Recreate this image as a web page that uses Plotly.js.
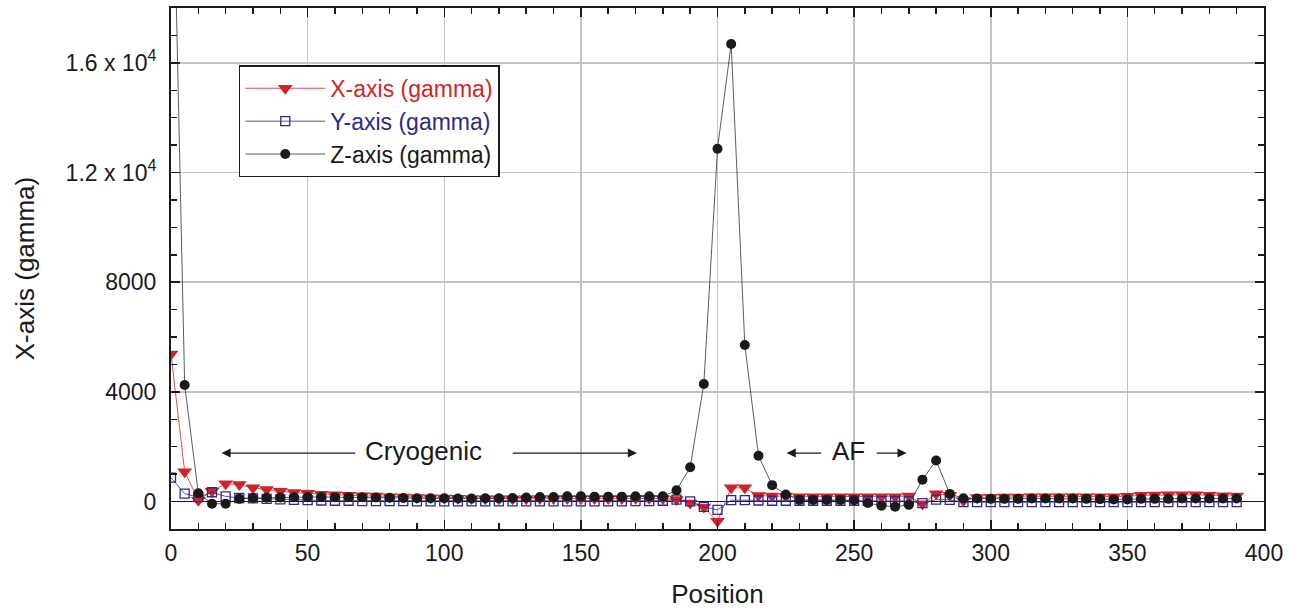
<!DOCTYPE html>
<html>
<head>
<meta charset="utf-8">
<script src="https://cdn.plot.ly/plotly-3.0.1.min.js"></script>
<style>html,body{margin:0;padding:0;background:#fff;}#chart{width:1303px;height:613px;}</style>
</head>
<body>
<div id="chart"></div>
<script>
const positions = [0,5,10,15,20,25,30,35,40,45,50,55,60,65,70,75,80,85,90,95,
  100,105,110,115,120,125,130,135,140,145,150,155,160,165,170,175,180,185,190,195,
  200,205,210,215,220,225,230,235,240,245,250,255,260,265,270,275,280,285,290,295,
  300,305,310,315,320,325,330,335,340,345,350,355,360,365,370,375,380,385,390];

const xAxisGamma = [5380,1090,50,380,650,620,500,440,380,330,300,270,250,230,210,200,180,170,150,140,
  130,120,110,100,100,100,100,110,110,110,110,110,110,110,120,120,110,80,-50,-200,
  -720,500,500,220,200,190,180,180,180,180,180,180,180,180,200,-80,290,230,30,150,
  160,170,170,180,180,180,180,180,180,180,190,230,240,250,250,250,230,210,200];

const yAxisGamma = [870,290,160,340,190,130,120,100,80,60,50,40,30,30,20,20,20,20,10,10,
  10,10,10,10,10,10,10,10,10,10,10,10,10,10,20,20,30,70,10,-190,
  -300,50,50,40,30,30,30,30,30,30,30,30,20,20,20,-60,70,60,-20,-20,
  -20,-20,-20,-20,-20,-20,-20,-20,-20,-20,-20,-20,-20,-20,-20,-20,-20,-20,-20];

const zAxisGamma = [27000,4250,300,-80,-80,100,130,140,150,160,170,170,160,160,160,150,140,130,120,120,
  120,110,110,120,120,130,150,170,170,190,190,180,180,180,190,190,190,410,1250,4290,
  12870,16690,5710,1670,600,260,60,60,60,60,50,-50,-150,-190,-120,800,1500,280,120,110,
  100,100,100,110,110,110,110,100,90,80,80,100,100,100,110,110,110,110,110];

const xTickVals = [0,50,100,150,200,250,300,350,400];
const yTickVals = [0,4000,8000,12000,16000];
const yTickText = ['0','4000','8000','1.2 x 10<sup>4</sup>','1.6 x 10<sup>4</sup>'];

const RED = '#d2232a', BLUE = '#2e2a87', BLACK = '#1a1a1a';
const FONT = 'Liberation Sans, Arial, Helvetica, sans-serif';

const traces = [
  {x: positions, y: xAxisGamma, mode: 'lines+markers', type: 'scatter',
   name: '<span style="color:' + RED + '">X-axis (gamma)</span>',
   line: {color: RED, width: 0.8},
   marker: {symbol: 'triangle-down', size: 13, color: RED, line: {width: 0}}},
  {x: positions, y: yAxisGamma, mode: 'lines+markers', type: 'scatter',
   name: '<span style="color:' + BLUE + '">Y-axis (gamma)</span>',
   line: {color: BLUE, width: 0.8},
   marker: {symbol: 'square-open', size: 9, color: BLUE, line: {width: 1.3, color: BLUE}}},
  {x: positions, y: zAxisGamma, mode: 'lines+markers', type: 'scatter',
   name: 'Z-axis (gamma)',
   line: {color: '#333', width: 0.8},
   marker: {symbol: 'circle', size: 10, color: BLACK}}
];

const arrowBase = {xref: 'x', yref: 'y', axref: 'x', ayref: 'y', text: '', showarrow: true,
  arrowhead: 2, arrowsize: 1.4, arrowwidth: 1.3, arrowcolor: BLACK};

const layout = {
  width: 1303, height: 613,
  margin: {l: 171, r: 39, t: 8, b: 84},
  paper_bgcolor: '#fff', plot_bgcolor: '#fff',
  font: {family: FONT, size: 22, color: BLACK},
  showlegend: true,
  legend: {x: 0.062, y: 0.89, xanchor: 'left', yanchor: 'top',
    bgcolor: '#fff', bordercolor: BLACK, borderwidth: 1.5,
    font: {family: FONT, size: 23, color: BLACK}, tracegroupgap: 0, itemwidth: 80},
  xaxis: {range: [0, 400], tickvals: xTickVals,
    ticks: 'inside', ticklen: 9, tickwidth: 1.5, tickcolor: BLACK,
    showline: true, linecolor: BLACK, linewidth: 2, mirror: 'allticks',
    showgrid: true, gridcolor: '#bfc4c4', gridwidth: 1.5, zeroline: false,
    minor: {dtick: 10, ticks: 'inside', ticklen: 6, tickwidth: 1.5, tickcolor: BLACK, showgrid: false},
    tickfont: {family: FONT, size: 23, color: BLACK}, ticklabelstandoff: 2,
    title: {text: 'Position', font: {family: FONT, size: 26, color: BLACK}, standoff: 20}},
  yaxis: {range: [-1000, 18000], tickvals: yTickVals, ticktext: yTickText,
    ticks: 'inside', ticklen: 9, tickwidth: 1.5, tickcolor: BLACK,
    showline: true, linecolor: BLACK, linewidth: 2, mirror: 'allticks',
    showgrid: true, gridcolor: '#bfc4c4', gridwidth: 1.5,
    zeroline: true, zerolinecolor: BLACK, zerolinewidth: 1.2,
    minor: {dtick: 1000, tick0: 0, ticks: 'inside', ticklen: 6, tickwidth: 1.5, tickcolor: BLACK, showgrid: false},
    tickfont: {family: FONT, size: 23, color: BLACK}, ticklabelstandoff: 8,
    title: {text: 'X-axis (gamma)', font: {family: FONT, size: 26, color: BLACK}, standoff: 24}},
  annotations: [
    {xref: 'x', yref: 'y', x: 92.5, y: 1850, text: 'Cryogenic', showarrow: false,
     font: {family: FONT, size: 26, color: BLACK}},
    Object.assign({x: 18.5, y: 1770, ax: 68, ay: 1770}, arrowBase),
    Object.assign({x: 170.5, y: 1770, ax: 124.5, ay: 1770}, arrowBase),
    {xref: 'x', yref: 'y', x: 248, y: 1850, text: 'AF', showarrow: false,
     font: {family: FONT, size: 26, color: BLACK}},
    Object.assign({x: 225.3, y: 1770, ax: 238.5, ay: 1770}, arrowBase),
    Object.assign({x: 269.2, y: 1770, ax: 257.7, ay: 1770}, arrowBase)
  ]
};

Plotly.newPlot('chart', traces, layout, {displayModeBar: false, staticPlot: true});
</script>
</body>
</html>
